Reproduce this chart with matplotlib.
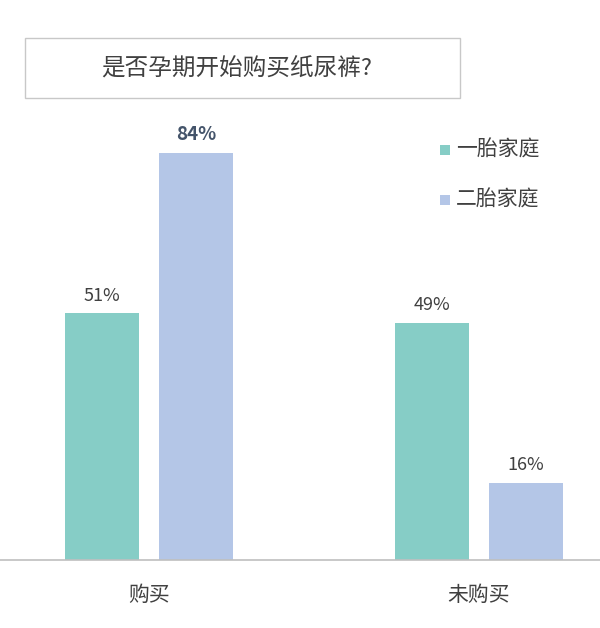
import matplotlib
matplotlib.use("Agg")
import matplotlib.pyplot as plt
from matplotlib.patches import Rectangle
import numpy as np

plt.rcParams['font.family'] = ['Noto Sans CJK SC', 'DejaVu Sans']

title = "是否孕期开始购买纸尿裤?"
categories = ["购买", "未购买"]
series_names = ["一胎家庭", "二胎家庭"]
first_child = [51, 49]
second_child = [84, 16]
colors = ["#86CDC6", "#B4C6E7"]
text_color = "#404040"
bold_color = "#44546A"

W, H = 600, 628
fig = plt.figure(figsize=(W / 100, H / 100), dpi=100)

base_px = 560
unit_px = 4.84
top_px = base_px - 100 * unit_px
ax = fig.add_axes([0, (H - base_px) / H, 1, (base_px - top_px) / H])
x = np.arange(len(categories))
group_px = 330.0
width = 74 / group_px
off = 47 / group_px
ax.set_xlim(-149 / group_px, 1 + (600 - 479) / group_px)
ax.set_ylim(0, 100)

ax.bar(x - off, first_child, width, color=colors[0], label=series_names[0])
ax.bar(x + off, second_child, width, color=colors[1], label=series_names[1])

for i, v in enumerate(first_child):
    ax.text(x[i] - off, v + 3.6, f"{v}%", ha="center", va="center",
            fontsize=13, color=text_color)
for i, v in enumerate(second_child):
    if v == max(second_child):
        ax.text(x[i] + off, v + 3.9, f"{v}%", ha="center", va="center",
                fontsize=13.5, color=bold_color, fontweight="bold")
    else:
        ax.text(x[i] + off, v + 3.6, f"{v}%", ha="center", va="center",
                fontsize=13, color=text_color)

for s in ["top", "right", "left"]:
    ax.spines[s].set_visible(False)
ax.spines["bottom"].set_color("#BFBFBF")
ax.spines["bottom"].set_linewidth(1.2)
ax.set_yticks([])
ax.set_xticks(x)
ax.set_xticklabels(categories, fontsize=15, color=text_color)
ax.tick_params(axis="x", length=0, pad=17)

# title box
fig.patches.append(Rectangle((25 / W, 1 - 98 / H), 435 / W, 60 / H,
                             transform=fig.transFigure, facecolor="white",
                             edgecolor="#C8C8C8", linewidth=1.0))
fig.text(237 / W, 1 - 68 / H, title, ha="center", va="center",
         fontsize=17, color=text_color)

# legend
for j, name in enumerate(series_names):
    yy = 150 + 50 * j
    fig.patches.append(Rectangle((440 / W, 1 - (yy + 5) / H), 10 / W, 10 / H,
                                 transform=fig.transFigure,
                                 facecolor=colors[j], edgecolor="none"))
    fig.text(456 / W, 1 - yy / H, name, ha="left", va="center",
             fontsize=15, color=text_color)

fig.savefig("out.png", dpi=100, facecolor="white")
